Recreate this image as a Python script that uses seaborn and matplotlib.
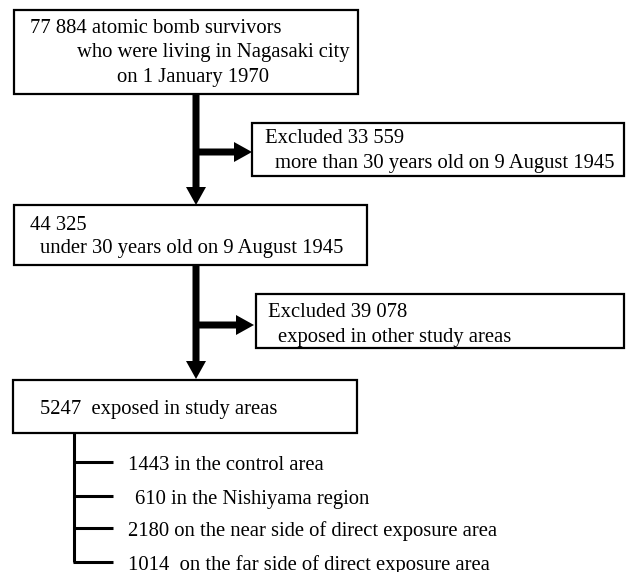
import matplotlib
matplotlib.use("Agg")
import matplotlib.pyplot as plt
from matplotlib.patches import Rectangle, FancyArrow
import seaborn as sns

# ---- data ----
total_n = 77884
excluded_age_n = 33559
under30_n = 44325
excluded_area_n = 39078
study_n = 5247
sub_counts = [1443, 610, 2180, 1014]
sub_labels = ["in the control area", "in the Nishiyama region",
              "on the near side of direct exposure area",
              " on the far side of direct exposure area"]


def fmt(n):
    return f"{n:,}".replace(",", " ")


sns.set_theme(style="white")
plt.rcParams['font.family'] = ['Liberation Serif', 'DejaVu Serif']

fig = plt.figure(figsize=(6.26, 5.72), dpi=100)
ax = fig.add_axes([0, 0, 1, 1])
ax.set_xlim(0, 626)
ax.set_ylim(572, 0)
ax.axis("off")

FS = 14.9
BOX_LW = 1.6


def box(x0, y0, x1, y1):
    ax.add_patch(Rectangle((x0, y0), x1 - x0, y1 - y0, fill=False,
                           edgecolor="black", linewidth=BOX_LW))


def txt(x, y, s):
    ax.text(x, y, s, fontsize=FS, ha="left", va="baseline", color="black")


def arrow(x0, y0, dx, dy):
    ax.add_patch(FancyArrow(x0, y0, dx, dy, width=7, head_width=20,
                            head_length=18, length_includes_head=True,
                            color="black", linewidth=0))


# box 1
box(14, 10, 358, 94)
txt(30, 33, f"{fmt(total_n)} atomic bomb survivors")
txt(77, 57, "who were living in Nagasaki city")
txt(117, 82, "on 1 January 1970")

# arrow 1
arrow(196, 94, 0, 111)
arrow(193, 152, 59, 0)

# excluded 1
box(252, 123, 624, 176)
txt(265, 143, f"Excluded {fmt(excluded_age_n)}")
txt(275, 168, "more than 30 years old on 9 August 1945")

# box 3
box(14, 205, 367, 265)
txt(30, 230, fmt(under30_n))
txt(40, 253, "under 30 years old on 9 August 1945")

# arrow 2
arrow(196, 265, 0, 114)
arrow(193, 325, 61, 0)

# excluded 2
box(256, 294, 624, 348)
txt(268, 317, f"Excluded {fmt(excluded_area_n)}")
txt(278, 342, "exposed in other study areas")

# box 4
box(13, 380, 357, 433)
txt(40, 414, f"{study_n}  exposed in study areas")

# bracket
tick_y = [462, 496, 528, 562]
ax.plot([74, 74], [433, tick_y[-1]], color="black", linewidth=2.2,
        solid_capstyle="butt")
for i, (c, lab) in enumerate(zip(sub_counts, sub_labels)):
    ax.plot([73, 113], [tick_y[i], tick_y[i]], color="black", linewidth=2.2,
            solid_capstyle="butt")
    s = f"{c} {lab}"
    xoff = 135 if c < 1000 else 128
    txt(xoff, tick_y[i] + 8, s)

fig.savefig("out.png", dpi=100, facecolor="white")
